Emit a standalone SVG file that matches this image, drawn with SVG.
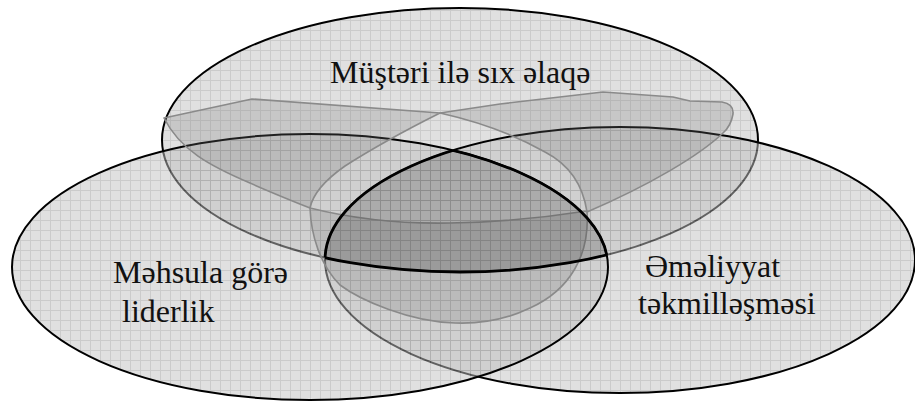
<svg xmlns="http://www.w3.org/2000/svg" width="915" height="403" viewBox="0 0 915 403">
  <defs>
    <pattern id="grid" patternUnits="userSpaceOnUse" x="0" y="0" width="10" height="10">
      <rect width="10" height="10" fill="#c1c1c1"/>
      <path d="M0,0.5H10M0.5,0V10" stroke="#979797" stroke-width="1" fill="none"/>
    </pattern>
    <clipPath id="clipT"><ellipse cx="460" cy="140" rx="298" ry="132"/></clipPath>
    <clipPath id="clipL"><ellipse cx="310" cy="267" rx="298" ry="133"/></clipPath>
    <clipPath id="clipR"><ellipse cx="620" cy="260" rx="295" ry="133"/></clipPath>
    <style>
      .ell { fill: url(#grid); fill-opacity: 0.5; stroke: #000; stroke-width: 2; }
      .lbl { font-size: 32px; fill: #111; }
      .petal { fill: #7a7a7a; fill-opacity: 0.25; stroke: #8a8a8a; stroke-width: 1.6; stroke-linejoin: round; }
      .core-edge { fill: none; stroke: #000; stroke-width: 2.8; }
    </style>
  </defs>
  <rect width="915" height="403" fill="#fff"/>

  <g id="node-customer">
    <ellipse class="ell" cx="460" cy="140" rx="298" ry="132"/>
    <text class="lbl" font-family="Liberation Serif, DejaVu Serif, serif" x="330" y="83">Müştəri ilə sıx əlaqə</text>
  </g>

  <g id="node-operations">
    <ellipse class="ell" cx="620" cy="260" rx="295" ry="133"/>
    <text class="lbl" font-family="Liberation Serif, DejaVu Serif, serif" x="645" y="277">Əməliyyat</text>
    <text class="lbl" font-family="Liberation Serif, DejaVu Serif, serif" x="638" y="314">təkmilləşməsi</text>
  </g>

  <g id="node-product">
    <ellipse class="ell" cx="310" cy="267" rx="298" ry="133"/>
    <text class="lbl" font-family="Liberation Serif, DejaVu Serif, serif" x="113" y="283">Məhsula görə</text>
    <text class="lbl" font-family="Liberation Serif, DejaVu Serif, serif" x="122" y="322">liderlik</text>
  </g>

  <g id="connectors">
    <path id="petal-customer-product" class="petal" d="M164,118 L252,99 L440,113 C410,128 370,150 345,166 C325,180 313,193 310,208 C290,200 270,192 250,183 C210,166 180,150 164,118 Z"/>
    <path id="petal-customer-operations" class="petal" d="M440,113 L500,104 L603,92 L673,97 L690,101 L722,102 Q734,104 733,114 Q731,126 723,133 C700,155 650,185 587,212 C583,185 570,165 545,152 C515,135 480,122 440,113 Z"/>
    <path id="petal-product-operations" class="petal" d="M310,208 C350,218 400,224 450,223 C510,222 555,216 587,211 C590,255 570,290 530,308 C505,320 480,324 455,323 C410,322 360,300 340,285 C320,265 311,235 310,208 Z"/>
  </g>

  <g id="node-core">
    <g clip-path="url(#clipL)">
      <g clip-path="url(#clipR)">
        <ellipse cx="460" cy="140" rx="298" ry="132" fill="#000" fill-opacity="0.14"/>
        <ellipse class="core-edge" cx="460" cy="140" rx="298" ry="132"/>
      </g>
    </g>
    <g clip-path="url(#clipT)">
      <g clip-path="url(#clipR)">
        <ellipse class="core-edge" cx="310" cy="267" rx="298" ry="133"/>
      </g>
      <g clip-path="url(#clipL)">
        <ellipse class="core-edge" cx="620" cy="260" rx="295" ry="133"/>
      </g>
    </g>
  </g>
</svg>
